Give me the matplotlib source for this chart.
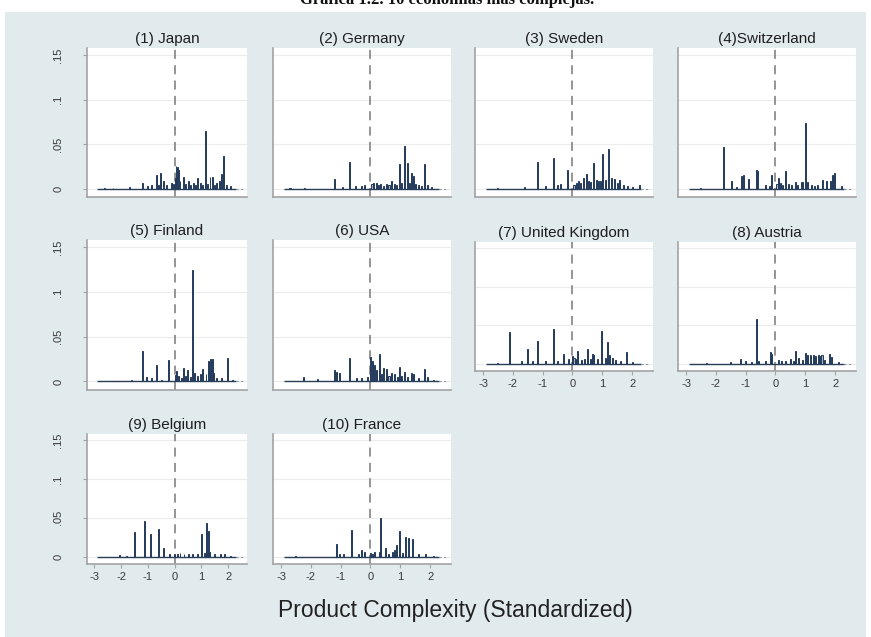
import matplotlib
matplotlib.use("Agg")
import matplotlib.pyplot as plt
from matplotlib.patches import Rectangle

# ---------------- data ----------------
panel_titles = ["(1) Japan", "(2) Germany", "(3) Sweden", "(4)Switzerland",
                "(5) Finland", "(6) USA", "(7) United Kingdom", "(8) Austria",
                "(9) Belgium", "(10) France"]

japan_x = [-2.6, -2.3, -1.7, -1.2, -1.0, -0.85, -0.69, -0.6, -0.54, -0.42,
           -0.3, -0.1, -0.05, 0.02, 0.05, 0.1, 0.15, 0.2, 0.33, 0.42,
           0.5, 0.6, 0.7, 0.78, 0.85, 0.95, 1.05, 1.15, 1.22, 1.32,
           1.42, 1.5, 1.57, 1.67, 1.74, 1.82, 1.95, 2.1]
japan_h = [0.001, 0.001, 0.002, 0.006, 0.003, 0.004, 0.015, 0.004, 0.018, 0.008,
           0.004, 0.006, 0.005, 0.012, 0.025, 0.024, 0.021, 0.008, 0.013, 0.005,
           0.009, 0.004, 0.006, 0.004, 0.012, 0.006, 0.004, 0.065, 0.005, 0.013,
           0.013, 0.004, 0.006, 0.009, 0.016, 0.037, 0.004, 0.003]

germany_x = [-2.7, -2.2, -1.22, -0.95, -0.69, -0.5, -0.3, -0.2,
             0.05, 0.1, 0.2, 0.28, 0.35, 0.45, 0.55, 0.62, 0.7, 0.8,
             0.88, 0.97, 1.05, 1.15, 1.23, 1.3, 1.37, 1.43, 1.5, 1.6,
             1.7, 1.8, 1.9, 2.05]
germany_h = [0.001, 0.001, 0.011, 0.002, 0.030, 0.003, 0.003, 0.004,
             0.005, 0.006, 0.006, 0.004, 0.005, 0.003, 0.005, 0.004, 0.008, 0.005,
             0.004, 0.028, 0.006, 0.048, 0.029, 0.006, 0.018, 0.014, 0.005, 0.004,
             0.003, 0.028, 0.004, 0.002]

sweden_x = [-2.5, -1.6, -1.16, -0.9, -0.64, -0.5, -0.4, -0.16, 0.05, 0.12,
            0.2, 0.28, 0.36, 0.48, 0.55, 0.6, 0.72, 0.8, 0.87, 0.95,
            1.01, 1.1, 1.2, 1.31, 1.42, 1.5, 1.57, 1.7, 1.85, 2.0, 2.25]
sweden_h = [0.001, 0.002, 0.030, 0.003, 0.034, 0.004, 0.005, 0.021, 0.004, 0.006,
            0.008, 0.006, 0.012, 0.016, 0.008, 0.007, 0.029, 0.010, 0.009, 0.008,
            0.039, 0.010, 0.044, 0.012, 0.011, 0.006, 0.010, 0.004, 0.003, 0.002, 0.004]

switzerland_x = [-2.5, -1.75, -1.49, -1.3, -1.13, -1.07, -0.9, -0.65, -0.6, -0.35,
                 -0.2, -0.12, 0.05, 0.1, 0.16, 0.25, 0.33, 0.45, 0.55, 0.66,
                 0.75, 0.86, 0.9, 1.02, 1.07, 1.2, 1.3, 1.4, 1.57, 1.7,
                 1.83, 1.92, 1.98, 2.22]
switzerland_h = [0.001, 0.047, 0.009, 0.002, 0.014, 0.015, 0.011, 0.021, 0.020, 0.004,
                 0.003, 0.015, 0.005, 0.012, 0.006, 0.004, 0.020, 0.005, 0.004, 0.007,
                 0.004, 0.007, 0.007, 0.074, 0.007, 0.004, 0.003, 0.004, 0.010, 0.008,
                 0.009, 0.015, 0.018, 0.003]

finland_x = [-2.2, -1.6, -1.19, -1.06, -0.87, -0.69, -0.5, -0.23, 0.02, 0.08,
             0.15, 0.25, 0.33, 0.42, 0.48, 0.58, 0.67, 0.75, 0.85, 0.95,
             1.05, 1.17, 1.26, 1.34, 1.4, 1.46, 1.55, 1.75, 1.98, 2.15]
finland_h = [0.001, 0.002, 0.034, 0.005, 0.004, 0.0185, 0.002, 0.024, 0.007, 0.012,
             0.006, 0.004, 0.015, 0.006, 0.013, 0.005, 0.125, 0.009, 0.006, 0.008,
             0.014, 0.008, 0.0226, 0.025, 0.025, 0.010, 0.004, 0.004, 0.026, 0.002]

usa_x = [-2.25, -1.78, -1.22, -1.13, -1.05, -0.69, -0.47, -0.3, -0.1, 0.0,
         0.07, 0.15, 0.2, 0.3, 0.38, 0.45, 0.55, 0.62, 0.7, 0.8,
         0.9, 0.97, 1.05, 1.14, 1.25, 1.38, 1.45, 1.6, 1.8, 1.9, 2.1]
usa_h = [0.005, 0.003, 0.013, 0.011, 0.009, 0.026, 0.004, 0.004, 0.005, 0.027,
         0.023, 0.0185, 0.013, 0.031, 0.008, 0.015, 0.014, 0.006, 0.009, 0.0085,
         0.005, 0.0167, 0.006, 0.011, 0.005, 0.010, 0.008, 0.004, 0.0137, 0.0055, 0.002]

uk_x = [-2.5, -2.1, -1.7, -1.52, -1.35, -1.18, -0.9, -0.63, -0.5, -0.3,
        -0.15, 0.0, 0.05, 0.1, 0.17, 0.3, 0.4, 0.51, 0.6, 0.67,
        0.72, 0.85, 0.98, 1.1, 1.18, 1.24, 1.33, 1.43, 1.6, 1.82, 2.0]
uk_h = [0.001, 0.0407, 0.003, 0.019, 0.003, 0.030, 0.004, 0.045, 0.003, 0.013,
        0.006, 0.0095, 0.008, 0.006, 0.016, 0.005, 0.006, 0.019, 0.006, 0.0125,
        0.011, 0.006, 0.042, 0.007, 0.028, 0.011, 0.008, 0.005, 0.004, 0.0147, 0.002]

austria_x = [-2.3, -1.5, -1.18, -1.0, -0.8, -0.64, -0.57, -0.35, -0.18, -0.13,
             0.1, 0.2, 0.35, 0.5, 0.6, 0.67, 0.78, 0.9, 1.0, 1.08,
             1.17, 1.28, 1.35, 1.43, 1.5, 1.56, 1.65, 1.81, 1.87, 2.1]
austria_h = [0.001, 0.002, 0.0065, 0.0035, 0.002, 0.058, 0.003, 0.003, 0.015, 0.013,
             0.005, 0.004, 0.004, 0.0065, 0.004, 0.0165, 0.008, 0.005, 0.014, 0.0117,
             0.011, 0.011, 0.010, 0.011, 0.010, 0.011, 0.005, 0.013, 0.0087, 0.002]

belgium_x = [-2.06, -1.8, -1.5, -1.14, -0.9, -0.61, -0.42, -0.2, 0.0, 0.1,
             0.2, 0.35, 0.5, 0.65, 0.85, 0.99, 1.1, 1.18, 1.25, 1.3,
             1.5, 1.7, 1.85, 2.1]
belgium_h = [0.002, 0.001, 0.032, 0.046, 0.0286, 0.035, 0.0115, 0.003, 0.004, 0.003,
             0.005, 0.003, 0.004, 0.003, 0.004, 0.0286, 0.005, 0.0427, 0.033, 0.006,
             0.004, 0.003, 0.003, 0.001]

france_x = [-2.5, -1.15, -1.05, -0.9, -0.63, -0.4, -0.3, -0.2, 0.0, 0.08,
            0.15, 0.3, 0.35, 0.5, 0.6, 0.75, 0.82, 0.88, 0.98, 1.08,
            1.18, 1.28, 1.42, 1.6, 1.85, 2.1]
france_h = [0.001, 0.016, 0.004, 0.003, 0.034, 0.004, 0.0085, 0.006, 0.005, 0.004,
            0.006, 0.006, 0.050, 0.011, 0.004, 0.006, 0.008, 0.015, 0.033, 0.005,
            0.025, 0.024, 0.023, 0.004, 0.003, 0.001]

series_x = [japan_x, germany_x, sweden_x, switzerland_x, finland_x,
            usa_x, uk_x, austria_x, belgium_x, france_x]
series_h = [japan_h, germany_h, sweden_h, switzerland_h, finland_h,
            usa_h, uk_h, austria_h, belgium_h, france_h]

x_ticks = [-3, -2, -1, 0, 1, 2]
x_ticklabels = ["-3", "-2", "-1", "0", "1", "2"]
y_ticks = [0, 0.05, 0.1, 0.15]
y_ticklabels = ["0", ".05", ".1", ".15"]

# ---------------- styling / layout ----------------
W, H = 871, 637
SANS = ["Liberation Sans", "DejaVu Sans"]
BG = "#e1eaed"
AXC = "#a3a3a3"

fig = plt.figure(figsize=(W / 100, H / 100), dpi=100)
fig.patch.set_facecolor("white")
fig.add_artist(Rectangle((5 / W, 0), (866 - 5) / W, (637 - 12) / H,
                         transform=fig.transFigure, facecolor=BG,
                         edgecolor="none", zorder=0))

fig.text(447 / W, 1 - 4.5 / H, "Gráfica 1.2. 10 economías más complejas.",
         ha="center", va="baseline", family=["Liberation Serif", "DejaVu Serif"],
         fontweight="bold", fontsize=12, color="#111111")

col_left = [87, 273, 475, 678]
col_w = [160, 178, 178, 178]
# (top, height, show x labels) per panel
panel_geo = [
    (48, 149, False), (48, 149, False), (48, 149, False), (48, 149, False),
    (240, 150, False), (240, 150, False), (242, 129, True), (242, 129, True),
    (434, 130, True), (434, 130, True),
]

for i, (title, xs, hs) in enumerate(zip(panel_titles, series_x, series_h)):
    col = i % 4
    top, hgt, xlab = panel_geo[i]
    left, wid = col_left[col], col_w[col]
    ax = fig.add_axes([left / W, 1 - (top + hgt) / H, wid / W, hgt / H])
    ax.set_facecolor("white")
    ax.set_xlim(-3.27, 2.7)
    ax.set_ylim(-0.0095, 0.158)

    for s in ["top", "right"]:
        ax.spines[s].set_visible(False)
    for s in ["left", "bottom"]:
        ax.spines[s].set_color(AXC)
        ax.spines[s].set_linewidth(1.2)

    ax.set_yticks(y_ticks)
    ax.set_xticks(x_ticks)
    ax.yaxis.grid(True, color="#ececec", linewidth=0.8)
    ax.set_axisbelow(True)

    if col == 0:
        ax.set_yticklabels(y_ticklabels, rotation=90, va="center",
                           family=SANS, fontsize=8, color="#3a3a3a")
        ax.tick_params(axis="y", length=3, width=0.8, color=AXC, pad=14)
    else:
        ax.tick_params(axis="y", length=0, labelleft=False)

    if xlab:
        ax.set_xticklabels(x_ticklabels, family=SANS, fontsize=8, color="#3a3a3a")
        ax.tick_params(axis="x", length=3, width=0.8, color=AXC, pad=3)
    else:
        ax.tick_params(axis="x", length=0, labelbottom=False)

    ax.axvline(0, color="#8c8c8c", linewidth=1.3, dashes=(5, 3.5), zorder=1.5)
    ax.hlines(0, -2.9, 2.3, color="#2b3e57", linewidth=1.0, zorder=2)
    ax.hlines(0, 2.3, 2.55, color="#8a96a3", linewidth=0.8,
              linestyles=(0, (2, 2)), zorder=2)
    ax.bar(xs, hs, width=0.035, bottom=0, color="#a9b6c4",
           edgecolor="#22395a", linewidth=0.7, zorder=3)

    ax.set_title(title, family=SANS, fontsize=11, color="#1e1e1e", pad=3.5)

fig.text(455 / W, 1 - 610 / H, "Product Complexity (Standardized)",
         ha="center", va="center", family=SANS, fontsize=16.5, color="#222222")

fig.savefig("out.png", dpi=100, facecolor=fig.get_facecolor())
